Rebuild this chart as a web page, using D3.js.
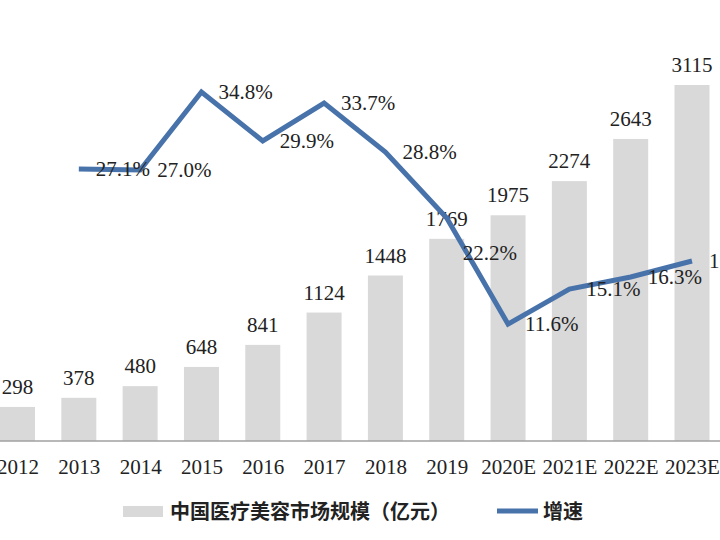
<!DOCTYPE html>
<html>
<head>
<meta charset="utf-8">
<script src="https://cdn.jsdelivr.net/npm/d3@7"></script>
<style>
  body { margin: 0; background: #fff; }
  svg { display: block; }
</style>
</head>
<body>
<script>
const years = ["2012", "2013", "2014", "2015", "2016", "2017", "2018", "2019", "2020E", "2021E", "2022E", "2023E"];
const marketSize = [298, 378, 480, 648, 841, 1124, 1448, 1769, 1975, 2274, 2643, 3115];
// growth rate in %, no value for 2012
const growth = [null, 27.1, 27.0, 34.8, 29.9, 33.7, 28.8, 22.2, 11.6, 15.1, 16.3, 17.9];
const legendLabels = ["中国医疗美容市场规模（亿元）", "增速"];

const width = 720, height = 540;
const baseY = 441;
const barW = 35;
const barColor = "#d9d9d9";
const lineColor = "#4872aa";
const serif = "'Liberation Serif', 'DejaVu Serif', serif";

const svg = d3.select("body").append("svg")
    .attr("width", width)
    .attr("height", height);

const x = d3.scalePoint().domain(years).range([17.5, 692]);
const y = d3.scaleLinear().domain([0, 3500]).range([baseY, 41]);
const y2 = d3.scaleLinear().domain([0, 40]).range([baseY - 1, 40]);

// bars
svg.append("g").selectAll("rect")
    .data(years)
    .enter().append("rect")
    .attr("x", d => x(d) - barW / 2)
    .attr("y", (d, i) => y(marketSize[i]))
    .attr("width", barW)
    .attr("height", (d, i) => baseY - y(marketSize[i]))
    .attr("fill", barColor);

// bar value labels
svg.append("g").selectAll("text")
    .data(years)
    .enter().append("text")
    .attr("x", d => x(d))
    .attr("y", (d, i) => y(marketSize[i]) - 13)
    .attr("text-anchor", "middle")
    .attr("font-family", serif)
    .attr("font-size", 21)
    .attr("fill", "#222")
    .text((d, i) => marketSize[i]);

// x axis
svg.append("line")
    .attr("x1", 0).attr("x2", width)
    .attr("y1", baseY).attr("y2", baseY)
    .attr("stroke", "#a0a0a0")
    .attr("stroke-width", 1.5);

const xAxis = svg.append("g")
    .attr("transform", `translate(0,${baseY})`)
    .call(d3.axisBottom(x).tickSize(0).tickPadding(18));
xAxis.select(".domain").remove();
xAxis.selectAll("text")
    .attr("font-family", serif)
    .attr("font-size", 21)
    .attr("fill", "#222");

// growth line
const linePts = years.map((d, i) => ({ year: d, v: growth[i] })).filter(d => d.v !== null);

svg.append("path")
    .datum(linePts)
    .attr("fill", "none")
    .attr("stroke", lineColor)
    .attr("stroke-width", 5)
    .attr("stroke-linejoin", "miter")
    .attr("d", d3.line().x(d => x(d.year)).y(d => y2(d.v)));

svg.append("g").selectAll("text")
    .data(linePts)
    .enter().append("text")
    .attr("x", d => x(d.year) + (d.year === "2019" ? 16 : 17))
    .attr("y", d => y2(d.v) + (d.year === "2019" ? 35 : 0))
    .attr("dy", "0.35em")
    .attr("font-family", serif)
    .attr("font-size", 21)
    .attr("fill", "#222")
    .text(d => d.v.toFixed(1) + "%");

// legend
const lg = svg.append("g");
lg.append("rect")
    .attr("x", 123).attr("y", 506)
    .attr("width", 40).attr("height", 11)
    .attr("fill", barColor);
lg.append("text")
    .attr("x", 170).attr("y", 512)
    .attr("dy", "0.35em")
    .attr("font-family", "'Noto Sans CJK SC', sans-serif")
    .attr("font-weight", 700)
    .attr("font-size", 20)
    .attr("fill", "#222")
    .text(legendLabels[0]);
lg.append("line")
    .attr("x1", 497).attr("x2", 538)
    .attr("y1", 511).attr("y2", 511)
    .attr("stroke", lineColor)
    .attr("stroke-width", 5);
lg.append("text")
    .attr("x", 543).attr("y", 512)
    .attr("dy", "0.35em")
    .attr("font-family", "'Noto Sans CJK SC', sans-serif")
    .attr("font-weight", 700)
    .attr("font-size", 20)
    .attr("fill", "#222")
    .text(legendLabels[1]);
</script>
</body>
</html>
